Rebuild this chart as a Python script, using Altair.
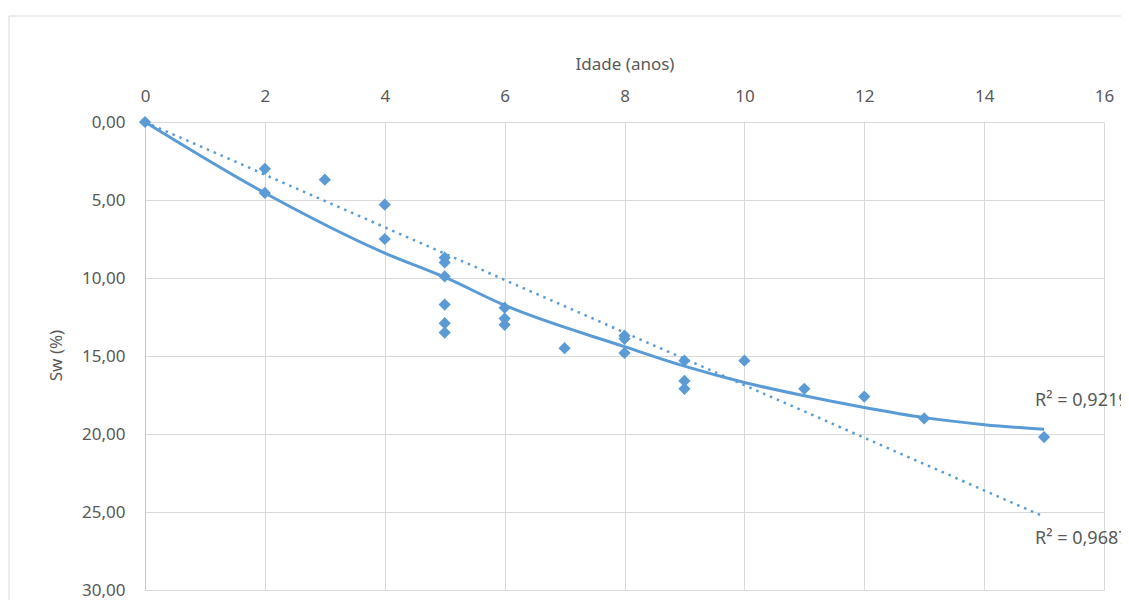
import altair as alt
import pandas as pd

# Scatter data (Idade, Sw)
idade = [0, 2, 2, 3, 4, 4, 5, 5, 5, 5, 5, 5, 6, 6, 6, 7, 8, 8, 8, 9, 9, 9, 10, 11, 12, 13, 15]
sw = [0.0, 3.0, 4.55, 3.7, 5.3, 7.5, 8.7, 9.0, 9.9, 11.7, 12.9, 13.5, 11.9, 12.6, 13.0,
      14.5, 13.7, 13.9, 14.8, 15.3, 16.6, 17.1, 15.3, 17.1, 17.6, 19.0, 20.2]

# Polynomial trend line
poly_x = [0, 2, 4, 5, 6, 8, 9, 10, 11, 12, 13, 14, 15]
poly_y = [0.0, 4.55, 8.4, 9.95, 11.75, 14.4, 15.65, 16.7, 17.55, 18.3, 18.95, 19.4, 19.7]

# Linear trend line
lin_x = [0, 15]
lin_y = [0.0, 25.3]

# R² labels
r2_text = ["R² = 0,9219", "R² = 0,9687"]
r2_x = [14.85, 14.85]
r2_y = [17.9, 26.7]

BLUE = "#5b9bd5"
GRAY_TXT = "#595959"
FONT = "Noto Sans"

pts = pd.DataFrame({"x": idade, "y": sw})
poly = pd.DataFrame({"x": poly_x, "y": poly_y})
lin = pd.DataFrame({"x": lin_x, "y": lin_y})
lab = pd.DataFrame({"x": r2_x, "y": r2_y, "t": r2_text})

xscale = alt.Scale(domain=[0, 16], nice=False, zero=False)
yscale = alt.Scale(domain=[0, 30], reverse=True, nice=False)

xaxis = alt.Axis(orient="top", values=[0, 2, 4, 6, 8, 10, 12, 14, 16], format="d",
                 title="Idade (anos)", labelFlush=False,
                 domain=False, ticks=False, labelPadding=17, titleY=-58,
                 titleBaseline="middle", gridColor="#d9d9d9")
yaxis = alt.Axis(values=[0, 5, 10, 15, 20, 25, 30], title="Sw (%)",
                 labelExpr="replace(format(datum.value, '.2f'), '.', ',')",
                 domain=True, domainColor="#c8c8c8", ticks=False, labelPadding=20,
                 labelFlush=False,
                 titleX=-89, titleY=233, titleBaseline="middle", titleAngle=-90,
                 gridColor="#d9d9d9")

frame = alt.Chart(pd.DataFrame({"a": [0]})).mark_rect(
    fill=None, stroke="#d9d9d9", strokeWidth=1, clip=False
).encode(x=alt.value(-136), x2=alt.value(1200), y=alt.value(-106), y2=alt.value(700))

points = alt.Chart(pts).mark_point(shape="diamond", filled=True, size=150, color=BLUE, opacity=1).encode(
    x=alt.X("x:Q", scale=xscale, axis=xaxis),
    y=alt.Y("y:Q", scale=yscale, axis=yaxis),
)

poly_line = alt.Chart(poly).mark_line(color=BLUE, strokeWidth=3, interpolate="monotone").encode(
    x=alt.X("x:Q", scale=xscale), y=alt.Y("y:Q", scale=yscale)
)

lin_line = alt.Chart(lin).mark_line(color=BLUE, strokeWidth=2.5, strokeDash=[2.5, 5]).encode(
    x=alt.X("x:Q", scale=xscale), y=alt.Y("y:Q", scale=yscale)
)

labels = alt.Chart(lab).mark_text(align="left", baseline="middle", fontSize=18, font=FONT,
                                  color=GRAY_TXT, clip=False).encode(
    x=alt.X("x:Q", scale=xscale), y=alt.Y("y:Q", scale=yscale), text="t:N"
)

chart = alt.layer(frame, lin_line, poly_line, points, labels).properties(
    width=959, height=468,
    background="white",
    autosize=alt.AutoSizeParams(type="none"),
    padding={"left": 137, "top": 114, "right": 17, "bottom": 10},
).configure_view(stroke=None).configure_axis(
    labelFont=FONT, titleFont=FONT, labelFontSize=17, titleFontSize=17,
    labelColor=GRAY_TXT, titleColor=GRAY_TXT, titleFontWeight="normal",
)

chart.save("out.html", embed_options={"renderer": "svg", "actions": False})
